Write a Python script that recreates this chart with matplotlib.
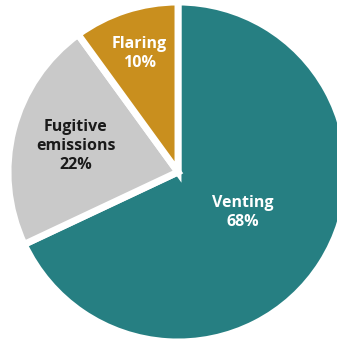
import matplotlib.pyplot as plt
import numpy as np

# data
labels = ["Venting", "Fugitive\nemissions", "Flaring"]
shares = [68, 22, 10]
colors = ["#267F82", "#C9C9C9", "#C98F1E"]
text_colors = ["white", "#1a1a1a", "white"]
label_dist = [0.45, 0.62, 0.73]

fig = plt.figure(figsize=(3.37, 3.40), dpi=100)
ax = fig.add_axes([0, 0, 1, 1])

wedges, _ = ax.pie(shares, colors=colors, startangle=90, counterclock=False,
                   radius=1.0,
                   wedgeprops=dict(edgecolor="white", linewidth=5))

# labels inside each slice
for w, lab, val, tc, d in zip(wedges, labels, shares, text_colors, label_dist):
    ang = np.deg2rad((w.theta1 + w.theta2) / 2)
    x, y = d * np.cos(ang), d * np.sin(ang)
    ax.text(x, y, f"{lab}\n{val}%", ha="center", va="center", color=tc,
            fontsize=11.5, fontweight="bold", family="Open Sans",
            linespacing=1.25)

# place the pie: centre at pixel (178, 172), radius ~170 px
scale = 170.0
ax.set_xlim(-178 / scale, (337 - 178) / scale)
ax.set_ylim(-(340 - 172) / scale, 172 / scale)
ax.set_aspect("equal")
ax.axis("off")

fig.savefig("out.png", dpi=100, facecolor="white")
